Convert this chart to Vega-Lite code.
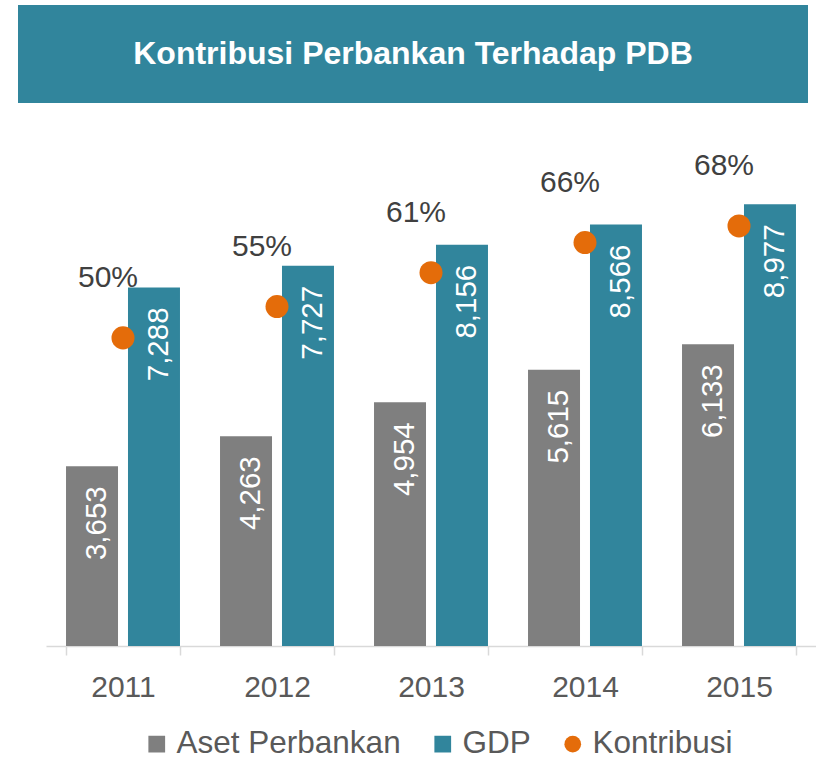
{
  "$schema": "https://vega.github.io/schema/vega-lite/v6.json",
  "padding": {"left": 18, "top": 5, "right": 0, "bottom": 0},
  "background": "white",
  "spacing": 47,
  "config": {
    "font": "Liberation Sans",
    "view": {"stroke": null},
    "axisX": {
      "domainColor": "#D9D9D9", "domainWidth": 1.5,
      "tickColor": "#D9D9D9", "tickWidth": 1.5, "tickSize": 9, "tickBand": "extent",
      "labelFont": "Liberation Sans", "labelFontSize": 30, "labelColor": "#595959",
      "labelPadding": 17, "labelAngle": 0, "grid": false, "title": null
    },
    "legend": {
      "labelFont": "Liberation Sans", "labelFontSize": 31.5, "labelColor": "#595959",
      "labelLimit": 400, "symbolSize": 280, "labelOffset": 4, "columnPadding": 26,
      "symbolStrokeWidth": 0, "symbolOpacity": 1
    }
  },
  "datasets": {
    "bars": [
      {"year": "2011", "series": "Aset Perbankan", "value": 3653},
      {"year": "2011", "series": "GDP", "value": 7288},
      {"year": "2012", "series": "Aset Perbankan", "value": 4263},
      {"year": "2012", "series": "GDP", "value": 7727},
      {"year": "2013", "series": "Aset Perbankan", "value": 4954},
      {"year": "2013", "series": "GDP", "value": 8156},
      {"year": "2014", "series": "Aset Perbankan", "value": 5615},
      {"year": "2014", "series": "GDP", "value": 8566},
      {"year": "2015", "series": "Aset Perbankan", "value": 6133},
      {"year": "2015", "series": "GDP", "value": 8977}
    ],
    "ratio": [
      {"year": "2011", "series": "Kontribusi", "ratio": 0.501},
      {"year": "2012", "series": "Kontribusi", "ratio": 0.552},
      {"year": "2013", "series": "Kontribusi", "ratio": 0.607},
      {"year": "2014", "series": "Kontribusi", "ratio": 0.656},
      {"year": "2015", "series": "Kontribusi", "ratio": 0.683}
    ],
    "title": [{"title": "Kontribusi Perbankan Terhadap PDB"}]
  },
  "vconcat": [
    {
      "width": 790,
      "height": 98,
      "view": {"fill": "#31859C", "stroke": null},
      "data": {"name": "title"},
      "mark": {"type": "text", "font": "Liberation Sans", "fontSize": 32, "fontWeight": "bold", "color": "white", "align": "center", "baseline": "middle"},
      "encoding": {"text": {"field": "title", "type": "nominal"}}
    },
    {
      "width": 798,
      "height": 492,
      "resolve": {"scale": {"y": "independent"}},
      "layer": [
        {
          "data": {"name": "bars"},
          "mark": {"type": "bar"},
          "encoding": {
            "x": {"field": "year", "type": "nominal", "title": null, "scale": {"range": [28, 798], "paddingInner": 0.26, "paddingOuter": 0.13}},
            "xOffset": {"field": "series", "type": "nominal", "scale": {"domain": ["Aset Perbankan", "GDP"], "paddingInner": 0.161, "paddingOuter": 0}},
            "y": {"field": "value", "type": "quantitative", "scale": {"domain": [0, 10000], "nice": false}, "axis": null},
            "color": {
              "field": "series", "type": "nominal",
              "scale": {"domain": ["Aset Perbankan", "GDP", "Kontribusi"], "range": ["#7F7F7F", "#31859C", "#E46C0A"]},
              "legend": {"title": null, "orient": "none", "direction": "horizontal", "legendX": 123, "legendY": 723}
            }
          }
        },
        {
          "data": {"name": "bars"},
          "mark": {"type": "text", "angle": 270, "align": "right", "baseline": "middle", "dx": -20, "dy": 5, "color": "white", "fontSize": 29.5, "font": "Liberation Sans"},
          "encoding": {
            "x": {"field": "year", "type": "nominal", "title": null, "scale": {"range": [28, 798], "paddingInner": 0.26, "paddingOuter": 0.13}},
            "xOffset": {"field": "series", "type": "nominal", "scale": {"domain": ["Aset Perbankan", "GDP"], "paddingInner": 0.161, "paddingOuter": 0}},
            "y": {"field": "value", "type": "quantitative", "scale": {"domain": [0, 10000], "nice": false}, "axis": null},
            "text": {"field": "value", "type": "quantitative", "format": ","}
          }
        },
        {
          "data": {"name": "ratio"},
          "mark": {"type": "point", "filled": true, "size": 530, "opacity": 1, "strokeWidth": 0},
          "encoding": {
            "x": {"field": "year", "type": "nominal", "title": null, "scale": {"range": [28, 798], "paddingInner": 0.26, "paddingOuter": 0.13}},
            "y": {"field": "ratio", "type": "quantitative", "scale": {"domain": [0, 0.8], "nice": false}, "axis": null},
            "color": {
              "field": "series", "type": "nominal",
              "scale": {"domain": ["Aset Perbankan", "GDP", "Kontribusi"], "range": ["#7F7F7F", "#31859C", "#E46C0A"]},
              "legend": {"title": null, "orient": "none", "direction": "horizontal", "legendX": 123, "legendY": 723}
            },
            "shape": {
              "field": "series", "type": "nominal",
              "scale": {"domain": ["Aset Perbankan", "GDP", "Kontribusi"], "range": ["square", "square", "circle"]},
              "legend": {"title": null, "orient": "none", "direction": "horizontal", "legendX": 123, "legendY": 723}
            }
          }
        },
        {
          "data": {"name": "ratio"},
          "mark": {"type": "text", "dx": -15, "dy": -60, "color": "#404040", "fontSize": 30, "font": "Liberation Sans", "align": "center", "baseline": "middle"},
          "encoding": {
            "x": {"field": "year", "type": "nominal", "title": null, "scale": {"range": [28, 798], "paddingInner": 0.26, "paddingOuter": 0.13}},
            "y": {"field": "ratio", "type": "quantitative", "scale": {"domain": [0, 0.8], "nice": false}, "axis": null},
            "text": {"field": "ratio", "type": "quantitative", "format": ".0%"}
          }
        }
      ]
    }
  ]
}
